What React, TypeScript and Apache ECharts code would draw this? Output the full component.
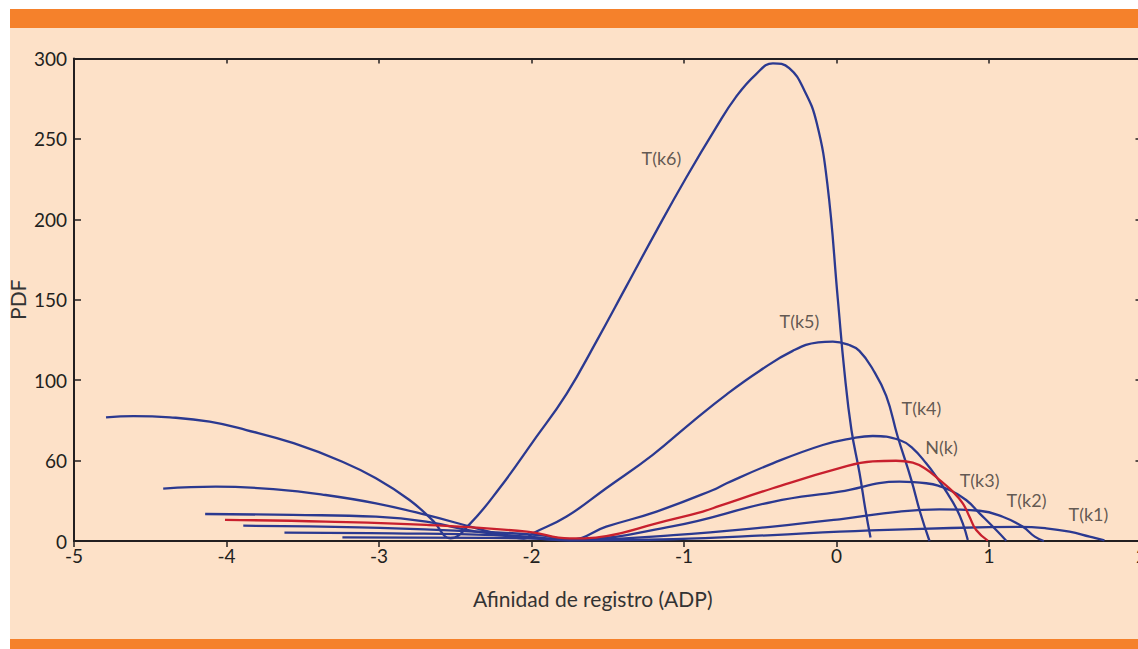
import React, { useEffect, useRef } from "react";
import * as echarts from "echarts";

// ---- Data ----
const xTicks = [-5, -4, -3, -2, -1, 0, 1, 2];
const yTickLabels: Record<number, string> = { 0: "0", 50: "60", 100: "100", 150: "150", 200: "200", 250: "250", 300: "300" };

const tk6: number[][] = [
  [-4.79, 76.9], [-4.61, 77.7], [-4.37, 76.9], [-4.11, 74.2], [-3.87, 69], [-3.56, 60.8], [-3.24, 49.3],
  [-3.02, 39], [-2.8, 25.5], [-2.65, 13], [-2.53, 1.7], [-2.41, 10], [-2.21, 32.8], [-1.99, 61.8],
  [-1.77, 91.5], [-1.575, 124], [-1.38, 158], [-1.18, 193], [-0.985, 226], [-0.79, 257],
  [-0.66, 276], [-0.53, 290], [-0.417, 297], [-0.31, 294], [-0.21, 280], [-0.13, 260],
  [-0.06, 222], [0.009, 150], [0.052, 105.3], [0.098, 69], [0.151, 42.3], [0.19, 19.3], [0.223, 2.2],
];
const tk5: number[][] = [
  [-4.415, 32.6], [-4.07, 33.8], [-3.675, 32.1], [-3.35, 28.6], [-3.02, 23.4], [-2.69, 16.2], [-2.36, 7.9],
  [-2.14, 2.7], [-2.05, 1.5], [-1.99, 4.8], [-1.77, 15.2], [-1.51, 32.8], [-1.205, 53.6], [-0.94, 74.6],
  [-0.72, 91.2], [-0.505, 105.7], [-0.287, 118.2], [-0.12, 123.5], [-0.024, 124], [0.08, 122], [0.15, 118.2],
  [0.238, 106.8], [0.326, 90.2], [0.4, 65.3], [0.49, 38.2], [0.55, 17.4], [0.61, 0],
];
const tk4: number[][] = [
  [-4.14, 16.8], [-3.565, 16.2], [-3.02, 15.1], [-2.69, 12], [-2.36, 5.8], [-2.0, 2.5], [-1.75, 0.8],
  [-1.51, 8.9], [-1.18, 18.3], [-0.81, 31.7], [-0.72, 35.9], [-0.418, 48.3], [-0.09, 59.7], [0.1, 63.8],
  [0.238, 65.3], [0.413, 62.8], [0.5, 57.6], [0.588, 48.3], [0.654, 40], [0.72, 30.7], [0.785, 20.4],
  [0.828, 11], [0.861, 0.6],
];
const nk: number[][] = [
  [-4.01, 13.1], [-3.35, 12.1], [-2.69, 10], [-2.03, 5.8], [-1.75, 1.6], [-1.51, 3.1], [-1.18, 11],
  [-0.877, 18.3], [-0.767, 21.8], [-0.418, 32.8], [0.02, 45.3], [0.238, 49.5], [0.39, 49.9], [0.5, 48.7],
  [0.588, 44.6], [0.675, 38], [0.763, 30.7], [0.828, 23.4], [0.872, 15.1], [0.916, 6.8], [0.992, 0.2],
];
const tk3: number[][] = [
  [-3.89, 9.5], [-3.13, 8.5], [-2.47, 6.3], [-1.95, 3.7], [-1.75, 1], [-1.07, 9.3], [-0.418, 24.4],
  [0.02, 30.7], [0.413, 36.9], [0.588, 35.9], [0.741, 31.7], [0.85, 25.5], [0.938, 17.2], [1.047, 6.8],
  [1.113, 0.2],
];
const tk2: number[][] = [
  [-3.62, 5.2], [-2.91, 4.8], [-2.25, 3.7], [-1.75, 0.6], [-1.07, 3.7], [-0.418, 9.0], [0.02, 13.5],
  [0.413, 18.3], [0.675, 19.7], [0.938, 18.8], [1.09, 15.1], [1.22, 9], [1.3, 2.7], [1.36, 0],
];
const tk1: number[][] = [
  [-3.24, 2.3], [-2.03, 1.7], [-1.75, 0.4], [-1.07, 1.1], [-0.418, 3.7], [0.02, 5.8], [0.5, 7.4],
  [1.0, 8.6], [1.2, 8.8], [1.375, 7.9], [1.528, 5.8], [1.66, 2.7], [1.757, 0.4],
];

const curveLabels: { name: string; value: number[] }[] = [
  { name: "T(k6)", value: [-1.148, 238] },
  { name: "T(k5)", value: [-0.243, 136.7] },
  { name: "T(k4)", value: [0.557, 82.8] },
  { name: "N(k)", value: [0.689, 58.5] },
  { name: "T(k3)", value: [0.938, 38.2] },
  { name: "T(k2)", value: [1.246, 25.5] },
  { name: "T(k1)", value: [1.652, 16.8] },
];

const BLUE = "#2b3990";
const RED = "#c8202e";
const INK = "#231f20";
const FONT = "Lato, 'Open Sans', sans-serif";

export default function App() {
  const ref = useRef<HTMLDivElement>(null);
  useEffect(() => {
    if (!ref.current) return;
    const chart = echarts.init(ref.current, undefined, { renderer: "svg" });
    const line = (name: string, data: number[][], color: string) => ({
      type: "line",
      name,
      data,
      smooth: 0.45,
      showSymbol: false,
      symbol: "none",
      lineStyle: { color, width: 2.3 },
      xAxisIndex: 0,
      yAxisIndex: 0,
    });
    const axisLine = { show: true, onZero: false, lineStyle: { color: INK, width: 2 } };
    chart.setOption({
      animation: false,
      backgroundColor: "#ffffff",
      graphic: [
        { type: "rect", z: -10, shape: { x: 10, y: 28, width: 1128, height: 611 }, style: { fill: "#fde1c8" } },
        { type: "rect", z: -10, shape: { x: 10, y: 9, width: 1128, height: 19 }, style: { fill: "#f5812b" } },
        { type: "rect", z: -10, shape: { x: 10, y: 639, width: 1128, height: 10 }, style: { fill: "#f5812b" } },
      ],
      grid: { left: 74, top: 58.5, width: 1067.5, height: 482.5, outerBoundsMode: "none", containLabel: false },
      xAxis: [
        {
          type: "value", min: -5, max: 2, interval: 1, position: "bottom",
          axisLine, axisTick: { show: true, inside: false, length: 6, lineStyle: { color: INK, width: 1.5 } },
          axisLabel: { color: INK, fontSize: 19, fontFamily: FONT, margin: 5, formatter: (v: number) => (xTicks.includes(v) ? String(v) : "") },
          splitLine: { show: false },
          name: "Afinidad de registro (ADP)", nameLocation: "middle", nameGap: 47, nameMoveOverlap: false,
          nameTextStyle: { color: "#333", fontSize: 21, fontFamily: FONT, padding: [0, 30, 0, 0] },
        },
        {
          type: "value", min: -5, max: 2, interval: 1, position: "top",
          axisLine, axisTick: { show: true, inside: true, length: 5, lineStyle: { color: INK, width: 1.5 } },
          axisLabel: { show: false }, splitLine: { show: false },
        },
      ],
      yAxis: [
        {
          type: "value", min: 0, max: 300, interval: 50, position: "left",
          axisLine, axisTick: { show: true, inside: true, length: 7, lineStyle: { color: INK, width: 1.5 } },
          axisLabel: { color: INK, fontSize: 19, fontFamily: FONT, margin: 7, formatter: (v: number) => yTickLabels[v] ?? "" },
          splitLine: { show: false },
          name: "PDF", nameLocation: "middle", nameGap: 46, nameRotate: 90, nameMoveOverlap: false,
          nameTextStyle: { color: "#333", fontSize: 21, fontFamily: FONT },
        },
        {
          type: "value", min: 0, max: 300, interval: 50, position: "right",
          axisLine, axisTick: { show: true, inside: true, length: 6, lineStyle: { color: INK, width: 1.5 } },
          axisLabel: { show: false }, splitLine: { show: false },
        },
      ],
      series: [
        line("T(k6)", tk6, BLUE),
        line("T(k5)", tk5, BLUE),
        line("T(k4)", tk4, BLUE),
        line("T(k3)", tk3, BLUE),
        line("T(k2)", tk2, BLUE),
        line("T(k1)", tk1, BLUE),
        line("N(k)", nk, RED),
        {
          type: "scatter",
          data: curveLabels,
          symbolSize: 1,
          itemStyle: { color: "rgba(0,0,0,0)" },
          label: {
            show: true, position: "inside", formatter: (p: any) => p.name,
            color: "#3a3533", fontSize: 18, fontFamily: FONT, align: "center", verticalAlign: "middle",
          },
          silent: true,
          z: 5,
        },
      ],
    });
    return () => chart.dispose();
  }, []);
  return <div ref={ref} style={{ position: "fixed", left: 0, top: 0, width: 1138, height: 649 }} />;
}
